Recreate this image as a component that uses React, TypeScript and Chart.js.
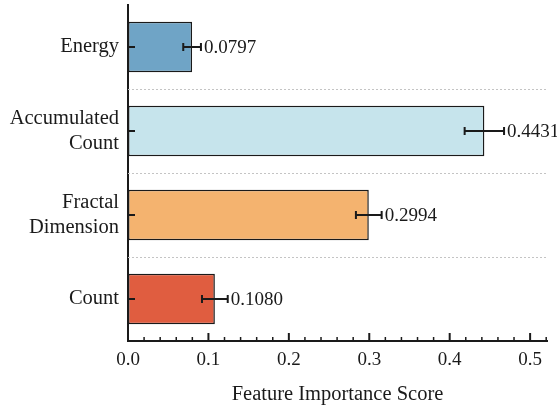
import { useEffect, useRef } from 'react';
import { Chart, registerables } from 'chart.js';

Chart.register(...registerables);

// Feature names (multi-line labels as arrays), mean importance and its error
const features: (string | string[])[] = ['Energy', ['Accumulated', 'Count'], ['Fractal', 'Dimension'], 'Count'];
const importance = [0.0797, 0.4431, 0.2994, 0.108];
const importanceErr = [0.011, 0.0245, 0.016, 0.016];
const barColors = ['#6fa4c6', '#c6e4ec', '#f4b36f', '#e05d40'];
const xTickStep = 0.1;
const xMinorStep = 0.02;
const xMax = 0.521;

const FONT = "'Liberation Serif', 'Times New Roman', serif";
const INK = '#1a1a1a';

const decorations = {
  id: 'decorations',
  beforeDatasetsDraw(chart: any) {
    const { ctx, chartArea, scales } = chart;
    const y = scales.y;
    ctx.save();
    ctx.strokeStyle = '#c4c4c4';
    ctx.lineWidth = 1;
    ctx.setLineDash([2, 2]);
    for (let i = 0; i < features.length - 1; i++) {
      const py = Math.round((y.getPixelForValue(i) + y.getPixelForValue(i + 1)) / 2) + 0.5;
      ctx.beginPath();
      ctx.moveTo(chartArea.left, py);
      ctx.lineTo(chartArea.right, py);
      ctx.stroke();
    }
    ctx.restore();
  },
  afterDatasetsDraw(chart: any) {
    const { ctx, chartArea, scales } = chart;
    const x = scales.x;
    const y = scales.y;
    ctx.save();
    ctx.strokeStyle = INK;
    ctx.fillStyle = INK;

    // error bars and value labels
    importance.forEach((v, i) => {
      const cy = y.getPixelForValue(i);
      const x0 = x.getPixelForValue(v - importanceErr[i]);
      const x1 = x.getPixelForValue(v + importanceErr[i]);
      ctx.lineWidth = 2;
      ctx.beginPath();
      ctx.moveTo(x0, cy);
      ctx.lineTo(x1, cy);
      ctx.moveTo(x0, cy - 4);
      ctx.lineTo(x0, cy + 4);
      ctx.moveTo(x1, cy - 4);
      ctx.lineTo(x1, cy + 4);
      ctx.stroke();
      ctx.font = `19px ${FONT}`;
      ctx.textAlign = 'left';
      ctx.textBaseline = 'middle';
      ctx.fillText(v.toFixed(4), x1 + 3, cy + 1);
    });

    // inward tick marks on the x axis (major + minor)
    const nMinor = Math.floor(xMax / xMinorStep + 1e-9);
    const ratio = Math.round(xTickStep / xMinorStep);
    for (let k = 0; k <= nMinor; k++) {
      const px = x.getPixelForValue(k * xMinorStep);
      const major = k % ratio === 0;
      ctx.lineWidth = major ? 2 : 1.5;
      ctx.beginPath();
      ctx.moveTo(px, chartArea.bottom);
      ctx.lineTo(px, chartArea.bottom - (major ? 8 : 4));
      ctx.stroke();
    }

    // inward tick marks on the y axis
    ctx.lineWidth = 2;
    features.forEach((_, i) => {
      const py = y.getPixelForValue(i);
      ctx.beginPath();
      ctx.moveTo(chartArea.left, py);
      ctx.lineTo(chartArea.left + 7, py);
      ctx.stroke();
    });
    ctx.restore();
  },
};

export default function App() {
  const canvasRef = useRef<HTMLCanvasElement | null>(null);

  useEffect(() => {
    if (!canvasRef.current) return;
    const chart = new Chart(canvasRef.current, {
      type: 'bar',
      data: {
        labels: features as any,
        datasets: [
          {
            data: importance,
            backgroundColor: barColors,
            borderColor: INK,
            borderWidth: 1.5,
            borderSkipped: false,
            barPercentage: 0.6,
            categoryPercentage: 1,
          },
        ],
      },
      options: {
        indexAxis: 'y',
        animation: false,
        responsive: false,
        layout: { padding: { top: 5, right: 10, left: 0, bottom: 0 } },
        plugins: {
          legend: { display: false },
          tooltip: { enabled: false },
        },
        scales: {
          x: {
            type: 'linear',
            min: 0,
            max: xMax,
            grid: { display: false, drawTicks: false },
            border: { display: true, color: INK, width: 2 },
            ticks: {
              stepSize: xTickStep,
              includeBounds: false,
              padding: 8,
              color: INK,
              font: { family: FONT, size: 19 },
              callback: (v: any) => Number(v).toFixed(1),
            },
            title: {
              display: true,
              text: 'Feature Importance Score',
              color: INK,
              font: { family: FONT, size: 20.5 },
              padding: { top: 10, bottom: 5 },
            },
            afterFit: (s: any) => {
              s.height = 71;
              s.paddingLeft = 0;
              s.paddingRight = 0;
            },
          },
          y: {
            type: 'category',
            grid: { display: false, drawTicks: false },
            border: { display: true, color: INK, width: 2 },
            ticks: {
              padding: 9,
              color: INK,
              font: { family: FONT, size: 20.5, lineHeight: 1.22 },
            },
            afterFit: (s: any) => {
              s.width = 128;
              s.paddingTop = 0;
              s.paddingBottom = 0;
            },
          },
        },
      },
      plugins: [decorations],
    });
    return () => chart.destroy();
  }, []);

  return (
    <div style={{ position: 'fixed', left: 0, top: 0, width: 557, height: 412, background: '#fff' }}>
      <canvas ref={canvasRef} width={557} height={412} style={{ display: 'block' }} />
    </div>
  );
}
